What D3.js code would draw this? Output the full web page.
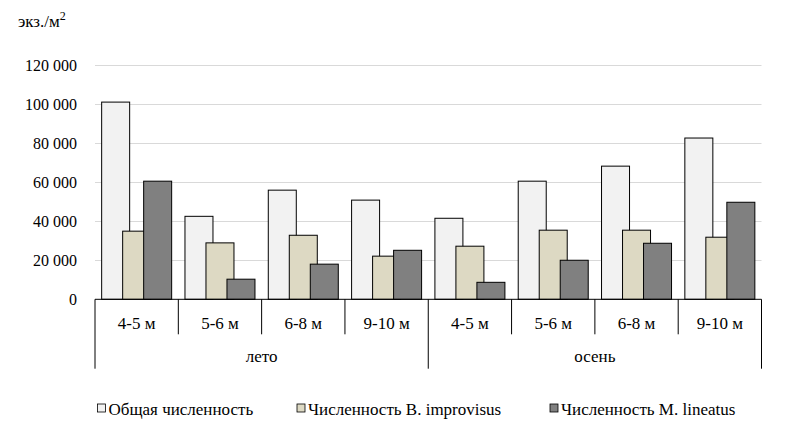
<!DOCTYPE html>
<html>
<head>
<meta charset="utf-8">
<script src="https://cdn.jsdelivr.net/npm/d3@7.9.0/dist/d3.min.js"></script>
<style>
  body { margin: 0; background: #fff; }
</style>
</head>
<body>
<svg id="chart" width="786" height="426" font-family="'Liberation Serif', 'Times New Roman', 'DejaVu Serif', serif"></svg>
<script>
const seasons = ['лето', 'осень'];
const depths = ['4-5 м', '5-6 м', '6-8 м', '9-10 м'];
const seriesNames = ['Общая численность', 'Численность B. improvisus', 'Численность M. lineatus'];
// values per season, depth order as above
const total = [101000, 42500, 55900, 50800, 41500, 60500, 68200, 82600];
const balanus = [34900, 28900, 32800, 22100, 27200, 35400, 35400, 31800];
const mytilus = [60500, 10300, 18000, 25100, 8700, 20000, 28700, 49700];
const yTicks = [0, 20000, 40000, 60000, 80000, 100000, 120000];
const colors = ['#f2f2f2', '#ddd9c3', '#808080'];

const svg = d3.select('#chart');
const plotL = 95, plotR = 761.5, plotT = 65, plotB = 299.3;

const cats = [];
seasons.forEach(s => depths.forEach(d => cats.push(s + '|' + d)));
const series = [total, balanus, mytilus];

const x = d3.scaleBand().domain(cats).range([plotL, plotR]);
const y = d3.scaleLinear().domain([0, 120000]).range([plotB, plotT]);

// gridlines
svg.append('g').selectAll('line').data(yTicks.slice(1)).join('line')
  .attr('x1', plotL).attr('x2', plotR)
  .attr('y1', d => Math.round(y(d)) + 0.5).attr('y2', d => Math.round(y(d)) + 0.5)
  .attr('stroke', '#d9d9d9').attr('stroke-width', 1);

// y tick labels
svg.append('g').selectAll('text').data(yTicks).join('text')
  .attr('x', 77).attr('y', d => y(d) + 5.5)
  .attr('text-anchor', 'end')
  .style('font-size', '16px')
  .text(d => d3.format(',')(d).replace(/,/g, ' '));

// bars: bar width 28, step 21, centred in each band
const bw = 28, step = 21, pad = (x.bandwidth() - (2 * step + bw)) / 2;
series.forEach((vals, si) => {
  svg.append('g').selectAll('rect').data(vals).join('rect')
    .attr('x', (d, i) => x(cats[i]) + pad + si * step)
    .attr('y', d => y(d))
    .attr('width', bw)
    .attr('height', d => plotB - y(d))
    .attr('fill', colors[si])
    .attr('stroke', '#000').attr('stroke-width', 1);
});

// x axis with two-level category lines
const ax = svg.append('g').attr('stroke', '#000').attr('stroke-width', 1);
ax.append('line').attr('x1', plotL).attr('x2', plotR).attr('y1', plotB).attr('y2', plotB);
cats.forEach((c, i) => {
  const isGroupEdge = i % depths.length === 0;
  ax.append('line').attr('x1', x(c)).attr('x2', x(c))
    .attr('y1', plotB).attr('y2', isGroupEdge ? 368.7 : 334.3);
});
ax.append('line').attr('x1', plotR).attr('x2', plotR).attr('y1', plotB).attr('y2', 368.7);

svg.append('g').selectAll('text').data(cats).join('text')
  .attr('x', d => x(d) + x.bandwidth() / 2)
  .attr('y', 328.5)
  .attr('text-anchor', 'middle')
  .style('font-size', '17px')
  .text(d => d.split('|')[1]);

svg.append('g').selectAll('text').data(seasons).join('text')
  .attr('x', (s, i) => x(s + '|' + depths[0]) + x.bandwidth() * depths.length / 2)
  .attr('y', 362)
  .attr('text-anchor', 'middle')
  .style('font-size', '17px')
  .text(d => d);

// y axis title
const yt = svg.append('text').attr('x', 18).attr('y', 27).style('font-size', '17px');
yt.append('tspan').text('экз./м');
yt.append('tspan').attr('dy', -7).style('font-size', '12px').text('2');

// legend
const legendX = [97.5, 297, 550];
const lg = svg.append('g').selectAll('g').data(seriesNames).join('g')
  .attr('transform', (d, i) => `translate(${legendX[i]},404)`);
lg.append('rect').attr('width', 8).attr('height', 8)
  .attr('fill', (d, i) => colors[i]).attr('stroke', '#000').attr('stroke-width', 0.8);
lg.append('text').attr('x', 11).attr('y', 11).style('font-size', '17px').text(d => d);
</script>
</body>
</html>
